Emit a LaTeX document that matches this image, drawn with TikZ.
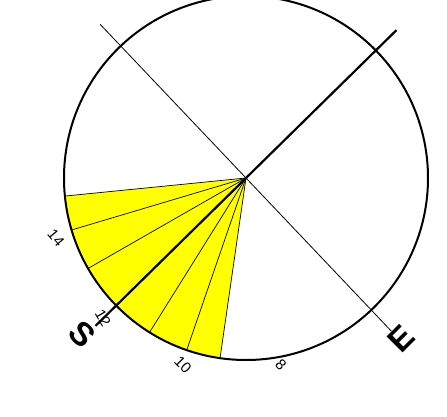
\documentclass[tikz,border=0pt]{standalone}
\usepackage{fontspec}
\setmainfont{Liberation Sans}
\definecolor{sunyellow}{RGB}{255,255,0}
\begin{document}
\begin{tikzpicture}[x=1pt,y=1pt,
  lbl/.style={font=\fontsize{15}{15}\selectfont, inner sep=0pt},
  dirlbl/.style={font=\fontsize{33}{33}\selectfont\bfseries, inner sep=0pt},
  thinln/.style={line width=0.7pt},
  axisthin/.style={line width=0.8pt},
  axisthick/.style={line width=2.2pt},
  rim/.style={line width=2pt},
]
\useasboundingbox (-246,-239) rectangle (201,178);
\clip (-246,-239) rectangle (201,178);
\coordinate (C) at (0,0);
% sector boundary points on the rim
\coordinate (h15) at (185.7:182);
\coordinate (h14) at (196.6:182);
\coordinate (h13) at (209.8:182);
\coordinate (h11) at (238:182);
\coordinate (h10) at (251:182);
\coordinate (h9) at (261.8:182);
% axis end points
\coordinate (N) at (44.5:211);
\coordinate (Sx) at (224.5:211);
\coordinate (W) at (133.5:212);
\coordinate (Ex) at (-46.5:211);
% yellow sector
\fill[sunyellow] (C) -- (h15) arc[start angle=185.7, end angle=261.8, radius=182] -- cycle;
\foreach \p in {h15,h14,h13,h11,h10,h9} \draw[thinln] (C) -- (\p);
% rim
\draw[rim] (C) circle[radius=182];
% axes
\draw[axisthin] (W) -- (Ex);
\draw[axisthick] (N) -- (Sx);
% hour labels
\node[lbl, rotate=-50] (t14) at (-190,-60) {14};
\node[lbl, rotate=-60] (t12) at (-143,-140) {12};
\node[lbl, rotate=-45] (t10) at (-63,-187) {10};
\node[lbl, rotate=-45] (t8) at (35,-187) {8};
% direction labels
\node[dirlbl, rotate=-45] (lS) at (-164,-156) {S};
\node[dirlbl, rotate=45] (lE) at (155,-161) {E};
\end{tikzpicture}
\end{document}
